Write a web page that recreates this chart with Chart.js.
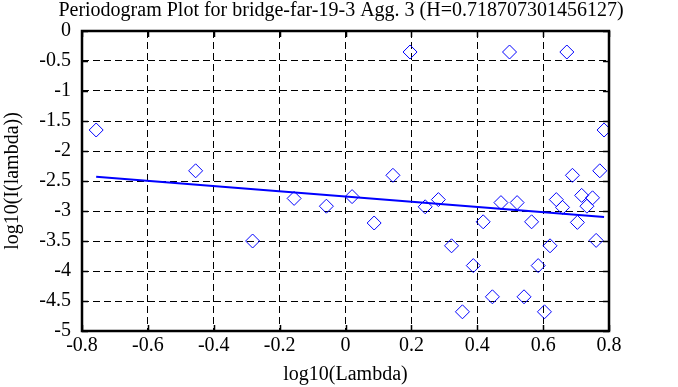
<!DOCTYPE html>
<html>
<head>
<meta charset="utf-8">
<script src="https://cdn.jsdelivr.net/npm/chart.js@4"></script>
<style>
  html, body { margin: 0; padding: 0; background: #fff; }
  #wrap { width: 678px; height: 387px; }
</style>
</head>
<body>
<div id="wrap"><canvas id="chart" width="678" height="387"></canvas></div>
<script>
// periodogram points: log10(lambda) vs log10(I(lambda))
const logLambda = [-0.757, -0.455, -0.282, -0.156, -0.058, 0.020, 0.087, 0.144, 0.196, 0.242,
  0.282, 0.322, 0.355, 0.388, 0.418, 0.446, 0.472, 0.498, 0.521, 0.542,
  0.565, 0.585, 0.604, 0.621, 0.640, 0.659, 0.672, 0.689, 0.704, 0.717,
  0.733, 0.750, 0.761, 0.772, 0.785];
const logI = [-1.65, -2.33, -3.50, -2.79, -2.92, -2.76, -3.20, -2.405, -0.35, -2.93,
  -2.81, -3.58, -4.68, -3.91, -3.18, -4.43, -2.86, -0.35, -2.86, -4.43,
  -3.18, -3.91, -4.68, -3.58, -2.81, -2.94, -0.35, -2.405, -3.19, -2.74,
  -2.92, -2.78, -3.49, -2.33, -1.65];

// least squares fit line end points
const fitX = [-0.757, 0.785];
const fitY = [-2.43, -3.10];

const xTicks = [-0.8, -0.6, -0.4, -0.2, 0, 0.2, 0.4, 0.6, 0.8];
const yTicks = [0, -0.5, -1, -1.5, -2, -2.5, -3, -3.5, -4, -4.5, -5];

const titleText = 'Periodogram Plot for bridge-far-19-3 Agg. 3 (H=0.718707301456127)';
const serif = '"Liberation Serif", "DejaVu Serif", serif';

const points = logLambda.map((x, i) => ({ x: x, y: logI[i] }));
const fitLine = fitX.map((x, i) => ({ x: x, y: fitY[i] }));

// title centred on the whole canvas, frame + inward tick marks
const framePlugin = {
  id: 'frame',
  afterDraw(chart) {
    const ctx = chart.ctx;
    ctx.save();
    ctx.fillStyle = '#000';
    ctx.font = '20px ' + serif;
    ctx.textAlign = 'center';
    ctx.textBaseline = 'middle';
    ctx.fillText(titleText, chart.width / 2 + 2, 11);
    ctx.restore();
  },
  afterDatasetsDraw(chart) {
    const ctx = chart.ctx;
    const a = chart.chartArea;
    const xs = chart.scales.x, ys = chart.scales.y;
    ctx.save();
    ctx.strokeStyle = '#000';
    ctx.lineWidth = 1.5;
    xTicks.forEach(v => {
      const px = Math.round(xs.getPixelForValue(v)) + 0.5;
      ctx.beginPath();
      ctx.moveTo(px, a.top); ctx.lineTo(px, a.top + 6);
      ctx.moveTo(px, a.bottom); ctx.lineTo(px, a.bottom - 6);
      ctx.stroke();
    });
    yTicks.forEach(v => {
      const py = Math.round(ys.getPixelForValue(v)) + 0.5;
      ctx.beginPath();
      ctx.moveTo(a.left, py); ctx.lineTo(a.left + 6, py);
      ctx.moveTo(a.right, py); ctx.lineTo(a.right - 6, py);
      ctx.stroke();
    });
    ctx.lineWidth = 2.5;
    ctx.strokeRect(a.left, a.top, a.right - a.left, a.bottom - a.top);
    ctx.restore();
  }
};

new Chart(document.getElementById('chart'), {
  type: 'scatter',
  data: {
    datasets: [
      {
        label: 'periodogram',
        data: points,
        pointStyle: 'rectRot',
        pointRadius: 7,
        pointHoverRadius: 7,
        borderColor: 'rgb(0,0,255)',
        backgroundColor: 'rgba(0,0,0,0)',
        borderWidth: 1,
        showLine: false
      },
      {
        label: 'fit',
        data: fitLine,
        showLine: true,
        borderColor: 'rgb(0,0,255)',
        borderWidth: 2,
        pointRadius: 0,
        fill: false
      }
    ]
  },
  options: {
    responsive: false,
    animation: false,
    layout: { padding: { left: 0, right: 69, top: 31, bottom: 0 } },
    plugins: {
      legend: { display: false },
      tooltip: { enabled: false },
      title: { display: false }
    },
    scales: {
      x: {
        type: 'linear',
        min: -0.8,
        max: 0.8,
        afterFit: s => { s.height = 56; },
        afterBuildTicks: s => { s.ticks = xTicks.map(v => ({ value: v })); },
        ticks: {
          color: '#000',
          font: { family: serif, size: 20 },
          padding: 3,
          maxRotation: 0,
          callback: v => String(Math.round(v * 10) / 10)
        },
        grid: { color: '#000', lineWidth: 1, drawTicks: false },
        border: { display: false, dash: [7, 4] },
        title: {
          display: true,
          text: 'log10(Lambda)',
          color: '#000',
          font: { family: serif, size: 20 },
          padding: { top: 0, bottom: 0 }
        }
      },
      y: {
        type: 'linear',
        min: -5,
        max: 0,
        afterFit: s => { s.width = 82; },
        afterBuildTicks: s => { s.ticks = yTicks.map(v => ({ value: v })); },
        ticks: {
          color: '#000',
          font: { family: serif, size: 20 },
          padding: 11,
          callback: v => String(Math.round(v * 10) / 10)
        },
        grid: { color: '#000', lineWidth: 1, drawTicks: false },
        border: { display: false, dash: [7, 4] },
        title: {
          display: true,
          text: 'log10(I(lambda))',
          color: '#000',
          font: { family: serif, size: 20 },
          padding: { top: 1, bottom: 0 }
        }
      }
    }
  },
  plugins: [framePlugin]
});
</script>
</body>
</html>
